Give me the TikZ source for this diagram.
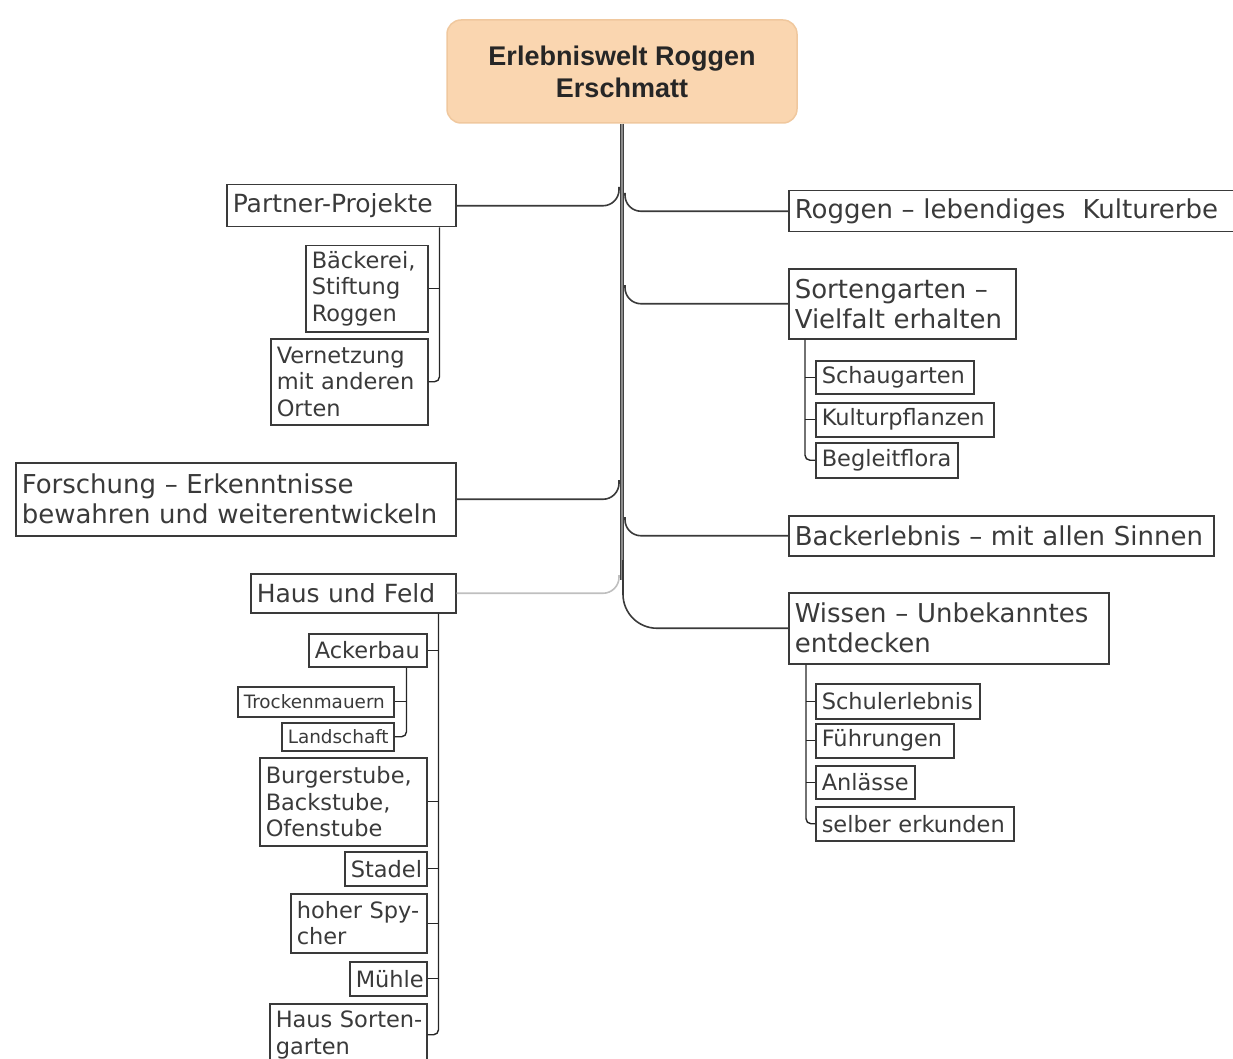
\documentclass[tikz,border=0pt]{standalone}
\usepackage{fontspec}
\setmainfont{DejaVu Sans}
\newfontfamily\rootfont{Liberation Sans}
\definecolor{rootfill}{HTML}{FAD6B0}
\definecolor{rootedge}{HTML}{F0C89E}
\definecolor{ink}{HTML}{3A3A3A}
\hyphenpenalty=10000
\tikzset{
  root/.style={rounded corners=14pt, fill=rootfill, draw=rootedge, line width=1.5pt,
    minimum width=350pt, minimum height=103pt, align=center, text=black!85,
    font={\rootfont\bfseries\fontsize{27}{32}\selectfont}},
  box/.style={draw=ink, line width=1.5pt, anchor=north west, align=left,
    inner xsep=6pt, inner ysep=2pt, text=ink},
  big/.style={font=\fontsize{26}{30}\selectfont},
  mid/.style={font=\fontsize{25}{29}\selectfont},
  small/.style={font=\fontsize{22.5}{26.5}\selectfont},
  tiny/.style={font=\fontsize{18.4}{22}\selectfont},
  trunk/.style={draw=black!75, line width=1.4pt, double=black!45, double distance=1.6pt},
  branch/.style={ink, line width=1.6pt, rounded corners=16pt},
  sub/.style={black!85, line width=1.4pt, rounded corners=5pt},
}
\begin{document}
\begin{tikzpicture}[x=1pt,y=-1pt]
  \useasboundingbox (0,0) rectangle (1233,1059);
  \node[root] (root) at (622,71.5) {Erlebniswelt Roggen\\Erschmatt};

  % left side
  \node[box,mid,text width=217pt,minimum height=42pt] (pp) at (226,184) {Partner-Projekte};
  \node[box,small,text width=110pt,minimum height=86pt] (bk) at (305,245) {Bäckerei,\\Stiftung\\Roggen};
  \node[box,small,text width=145pt,minimum height=86pt] (vn) at (270,338) {Vernetzung\\mit anderen\\Orten};
  \node[box,big,text width=428pt,minimum height=73pt] (fo) at (15,462) {Forschung – Erkenntnisse\\bewahren und weiterentwickeln};
  \node[box,mid,text width=193pt,minimum height=39pt] (hf) at (250,573) {Haus und Feld};
  \node[box,small,text width=106pt,minimum height=33pt] (ab) at (308,633) {Ackerbau};
  \node[box,tiny,text width=144pt,minimum height=30pt] (tm) at (237,686) {Trockenmauern};
  \node[box,tiny,text width=100pt,minimum height=28pt] (ls) at (281,722) {Landschaft};
  \node[box,small,text width=155pt,minimum height=88pt] (bu) at (259,757) {Burgerstube,\\Backstube,\\Ofenstube};
  \node[box,small,text width=70pt,minimum height=34pt] (st) at (344,851) {Stadel};
  \node[box,small,text width=124pt,minimum height=59pt] (hs) at (290,893) {hoher Spy-\\cher};
  \node[box,small,text width=65pt,minimum height=34pt] (mu) at (349,961) {Mühle};
  \node[box,small,text width=145pt,minimum height=62pt] (hsg) at (269,1003) {\makebox[0pt][l]{Haus Sorten-}\\garten};

  % right side
  \node[box,big,text width=433pt,minimum height=41pt] (rg) at (788,190) {Roggen – lebendiges\ \ Kulturerbe};
  \node[box,big,text width=215pt,minimum height=70pt] (sg) at (788,268) {Sortengarten –\\Vielfalt erhalten};
  \node[box,small,text width=146pt,minimum height=33pt] (sc) at (815,360) {Schaugarten};
  \node[box,small,text width=166pt,minimum height=34pt] (kp) at (815,402) {Kulturpflanzen};
  \node[box,small,text width=130pt,minimum height=35pt] (bf) at (815,442) {Begleitflora};
  \node[box,big,text width=413pt,minimum height=40pt] (be) at (788,515) {Backerlebnis – mit allen Sinnen};
  \node[box,big,text width=308pt,minimum height=71pt] (ws) at (788,592) {Wissen – Unbekanntes\\entdecken};
  \node[box,small,text width=152pt,minimum height=35pt] (sl) at (815,683) {Schulerlebnis};
  \node[box,small,text width=126pt,minimum height=34pt] (fu) at (815,723) {Führungen};
  \node[box,small,text width=87pt,minimum height=33pt] (an) at (815,765) {Anlässe};
  \node[box,small,text width=186pt,minimum height=34pt] (se) at (815,806) {selber erkunden};

  % trunk and branches
  \coordinate (jpp) at (619,187);
  \coordinate (jfo) at (619,480);
  \coordinate (jhf) at (619,575);
  \coordinate (jrg) at (625,193);
  \coordinate (jsg) at (625,285);
  \coordinate (jbe) at (625,517);
  \coordinate (jws) at (623,560);
  \draw[trunk] (root.south) -- (622,580);
  \draw[branch] (pp.east) -| (jpp);
  \draw[branch] (fo.east) -| (jfo);
  \draw[branch,black!25] (hf.east) -| (jhf);
  \draw[branch] (jrg) |- (rg.west);
  \draw[branch] (jsg) |- (sg.west);
  \draw[branch] (jbe) |- (be.west);
  \draw[branch,rounded corners=34pt] (jws) |- (ws.west);

  % sub branches
  \draw[sub] ([xshift=-17pt]pp.south east) |- (vn.east);
  \draw[sub] (bk.east) -- ++(11,0);
  \draw[sub] ([xshift=-18pt]hf.south east) |- (hsg.east);
  \foreach \n in {ab,bu,st,hs,mu}
    \draw[sub] (\n.east) -- ++(11,0);
  \draw[sub] ([xshift=-21pt]ab.south east) |- (ls.east);
  \draw[sub] (tm.east) -- ++(12,0);
  \draw[sub] ([xshift=17pt]sg.south west) |- (bf.west);
  \foreach \n in {sc,kp}
    \draw[sub] (\n.west) -- ++(-10,0);
  \draw[sub] ([xshift=18pt]ws.south west) |- (se.west);
  \foreach \n in {sl,fu,an}
    \draw[sub] (\n.west) -- ++(-9,0);
\end{tikzpicture}
\end{document}
